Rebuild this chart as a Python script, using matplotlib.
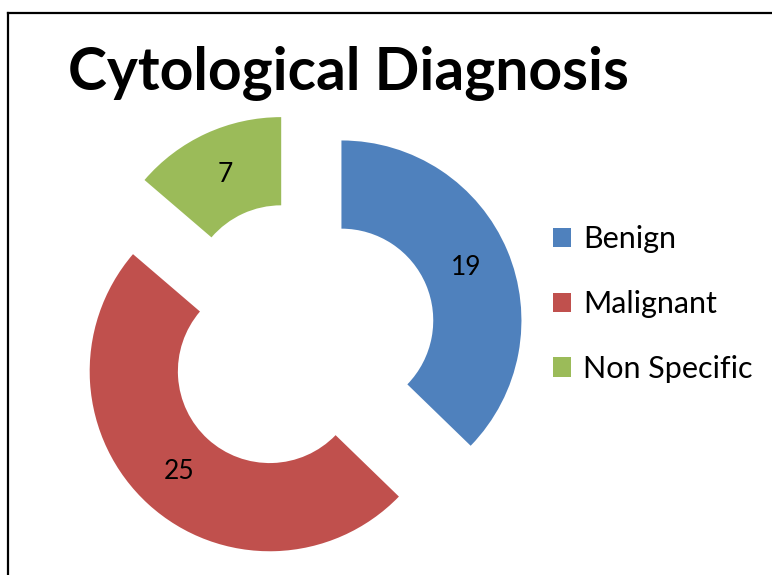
import matplotlib
matplotlib.use("Agg")
import matplotlib.pyplot as plt
from matplotlib.lines import Line2D
from matplotlib.patches import Patch

categories = ["Benign", "Malignant", "Non Specific"]
values = [19, 25, 7]
colors = ["#4F81BD", "#C0504D", "#9BBB59"]
title = "Cytological Diagnosis"

W, H = 772, 575
fig = plt.figure(figsize=(W / 100, H / 100), dpi=100)
ax = fig.add_axes([0, 0, 1, 1])

R = 180
total = sum(values)
wedges, texts, autotexts = ax.pie(
    values,
    colors=colors,
    startangle=90,
    counterclock=False,
    center=(300, H - 338),
    radius=R,
    explode=[45] * len(values),
    wedgeprops=dict(width=R * 0.49, linewidth=0, edgecolor="none"),
    autopct=lambda p: f"{round(p * total / 100)}",
    pctdistance=0.75,
    textprops=dict(fontsize=19, family="Lato", color="black"),
    frame=True,
)
ax.set_xlim(0, W)
ax.set_ylim(0, H)
ax.set_aspect("equal")
ax.axis("off")

fig.text(68 / W, 1 - 90 / H, title, fontsize=42.3, fontweight="bold",
         family="Lato", ha="left", va="baseline")

handles = [Patch(facecolor=c, edgecolor="none") for c in colors]
ax.legend(handles, categories, loc="center left", bbox_to_anchor=(553 / W, 1 - 304 / H),
          frameon=False, handlelength=0.6, handleheight=0.6,
          handletextpad=0.38, labelspacing=1.2, borderpad=0, borderaxespad=0,
          prop=dict(family="Lato", size=22))

# border (frame of the chart area, cropped at right and bottom)
x0 = 7.5 / W
y0 = 1 - 12.5 / H
fig.add_artist(Line2D([x0, x0], [y0, 0], transform=fig.transFigure, color="black", lw=1.6))
fig.add_artist(Line2D([x0, 1], [y0, y0], transform=fig.transFigure, color="black", lw=1.6))

fig.savefig("out.png", dpi=100, facecolor="white")
